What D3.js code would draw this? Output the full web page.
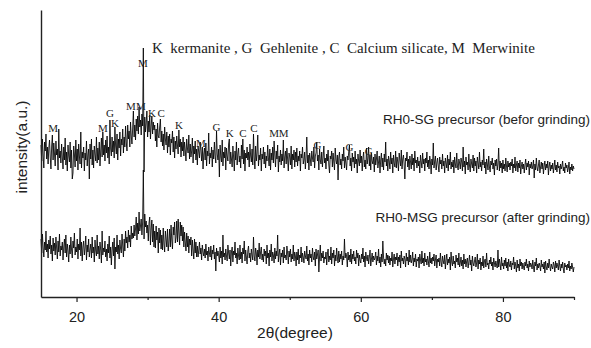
<!DOCTYPE html>
<html><head><meta charset="utf-8">
<script src="https://cdn.jsdelivr.net/npm/d3@7/dist/d3.min.js"></script>
<style>body{margin:0;background:#fff}svg{display:block}</style>
</head><body><svg id="c" width="591" height="348"></svg>
<script>
// 2θ grid (degrees)
const angleStart = 15, angleStep = 0.1;

// RH0-SG precursor (before grinding), a.u. — one row per degree, 15° .. 90°
const sgIntensity = [
152,136,158,141,129,155,146,163,138,150,
133,149,157,140,128,151,162,137,154,143,
131,156,142,148,127,168,139,146,134,153,
140,128,150,137,159,132,145,126,152,141,
135,155,129,147,118,124,151,143,130,157,
136,148,127,153,141,133,165,129,145,139,
150,126,144,137,156,131,142,148,118,153,
138,158,132,147,129,151,143,136,160,134,
149,137,155,131,146,159,140,165,142,152,
136,157,144,161,139,150,133,177,148,141,
160,145,156,139,170,151,143,163,137,158,
149,165,141,158,152,168,144,160,150,171,
155,146,172,158,166,150,175,161,153,169,
186,160,172,157,178,166,181,163,190,170,
177,162,183,171,249,125,180,165,174,186,
160,176,165,182,158,171,181,163,175,167,
172,156,168,150,174,161,159,170,178,155,
166,151,163,147,170,158,152,165,144,161,
150,163,142,158,154,166,145,160,139,156,
148,161,152,143,167,150,158,140,155,146,
160,141,155,147,136,158,149,144,162,138,
153,140,146,159,134,151,143,156,137,148,
132,151,145,139,155,147,136,150,128,143,
149,137,154,131,146,141,164,133,144,139,
150,130,147,138,155,141,134,166,143,137,
148,120,152,140,135,157,131,145,139,150,
127,149,141,136,153,158,133,145,138,130,
151,140,126,146,137,155,132,143,149,135,
141,129,152,138,158,133,147,126,144,139,
150,137,145,130,153,141,135,148,132,163,
140,128,151,136,144,162,131,142,137,149,
126,143,138,150,133,145,129,141,136,152,
139,131,148,127,144,137,150,134,156,142,
130,146,138,152,125,141,135,147,132,143,
136,157,129,140,146,133,149,138,126,144,
140,132,151,128,143,137,147,130,145,135,
149,131,141,136,146,126,143,139,150,133,
137,145,128,140,160,134,142,127,144,138,
131,146,139,135,150,129,141,144,155,136,
142,127,148,137,133,145,130,140,151,134,
139,128,143,136,147,132,124,141,138,146,
130,144,135,127,149,137,133,142,117,139,
145,132,138,128,143,136,150,129,140,134,
127,141,137,145,152,131,139,126,144,135,
140,129,146,133,138,124,143,136,131,147,
134,141,126,139,145,130,137,128,149,133,
139,150,131,142,127,144,136,133,140,125,
143,132,138,146,129,135,141,124,137,144,
130,139,127,143,135,155,131,138,126,141,
136,128,145,133,139,124,142,134,130,146,
129,140,135,126,144,137,131,147,128,138,
142,133,118,139,136,145,130,138,127,141,
135,128,143,132,139,126,146,134,137,129,
140,131,136,124,142,135,129,144,133,138,
126,139,134,145,130,137,128,141,135,123,
138,132,154,129,136,141,127,134,139,131,
125,140,133,137,128,143,131,136,124,139,
134,129,142,126,138,132,145,128,135,130,
137,124,140,133,129,144,131,127,138,134,
128,139,135,126,150,130,136,123,140,132,
135,127,143,131,125,138,133,129,142,126,
139,131,136,124,140,134,128,145,130,135,
126,137,132,148,129,135,123,138,133,127,
141,130,125,136,132,139,128,134,122,137,
131,138,127,133,149,126,136,129,134,124,
137,128,133,126,139,131,125,136,130,134,
127,135,131,138,124,133,129,140,126,132,
136,125,134,129,137,123,131,135,128,133,
124,132,138,127,134,130,136,122,133,129,
135,128,131,137,119,133,127,139,130,126,
132,137,124,130,135,128,134,123,131,136,
127,133,129,136,122,131,135,126,132,128,
134,124,130,137,127,132,125,135,129,131,
123,133,128,131,136,126,130,124,134,129,
132,125,129,135,123,130,127,133,126,131,
128
];

// RH0-MSG precursor (after grinding), a.u. — one row per degree, 15° .. 90°
const msgIntensity = [
58,44,63,49,40,55,47,66,45,53,
39,57,48,61,43,52,36,59,46,54,
42,60,49,38,56,45,63,41,51,47,
55,37,50,58,44,62,40,53,46,35,
52,43,60,47,39,56,49,64,42,50,
45,58,38,53,47,69,41,55,36,50,
56,42,49,61,37,52,45,58,40,47,
53,39,60,44,50,35,57,46,41,62,
43,51,38,55,47,34,66,42,49,45,
56,40,48,36,53,44,61,39,50,32,
47,55,41,59,28,50,45,62,43,52,
38,57,48,44,63,51,40,58,46,66,
54,60,49,67,55,62,50,71,58,64,
59,72,61,68,80,57,74,63,85,66,
71,78,62,75,127,58,83,70,76,64,
72,56,74,80,52,68,77,55,73,50,
66,49,71,57,65,44,69,54,67,48,
62,47,69,53,45,66,58,50,68,46,
55,68,50,72,57,48,70,62,75,54,
60,76,55,78,64,52,75,61,72,56,
70,50,65,55,46,64,50,61,44,58,
52,60,41,57,47,38,58,44,55,40,
51,40,47,55,43,49,37,52,45,41,
48,39,53,42,46,36,50,44,40,51,
37,47,43,52,38,45,26,49,41,46,
42,35,50,39,46,33,62,40,44,37,
48,41,36,52,44,38,47,31,45,50,
35,46,42,55,39,44,33,49,41,37,
52,38,45,34,49,43,56,36,47,40,
33,46,51,39,44,35,48,42,37,60,
41,36,49,44,32,47,40,54,38,45,
50,37,43,35,48,41,46,33,52,39,
44,31,47,40,53,36,45,42,34,49,
38,46,41,62,35,43,48,32,44,40,
47,34,50,39,42,37,51,44,33,46,
40,48,35,43,38,52,36,45,41,31,
45,37,48,33,42,39,50,35,44,40,
34,46,41,38,51,36,43,32,47,39,
43,35,49,40,37,45,31,48,38,42,
47,25,41,52,36,44,39,46,34,40,
38,45,32,43,48,35,41,37,50,33,
44,39,47,31,42,36,49,40,34,46,
35,43,38,46,32,41,37,58,39,44,
41,30,45,37,42,35,48,33,43,38,
46,36,40,33,47,39,44,31,42,37,
34,43,38,49,35,41,30,45,39,36,
42,33,40,47,31,38,44,35,41,37,
39,45,32,41,36,48,34,40,30,43,
35,56,40,33,38,31,44,37,42,34,
41,32,39,36,45,30,38,43,33,40,
37,44,31,40,35,42,29,46,36,39,
33,41,38,30,44,36,40,32,47,35,
42,34,37,45,31,39,35,43,30,38,
36,40,29,43,37,33,46,34,39,31,
44,35,38,32,41,36,30,45,34,39,
33,40,36,43,31,37,42,29,38,35,
39,31,44,35,30,41,36,33,42,28,
37,43,32,38,34,40,27,45,35,31,
41,33,36,29,42,35,39,32,44,30,
34,40,31,37,28,43,33,38,30,36,
39,29,35,42,32,37,26,41,34,31,
36,40,30,34,43,28,37,33,39,27,
35,31,41,29,36,38,30,44,32,34,
28,37,33,40,31,35,27,39,34,30,
36,32,29,47,30,38,33,27,40,31,
34,28,37,31,39,29,35,26,38,32,
30,36,27,34,32,40,28,35,31,25,
37,29,33,26,38,31,35,28,34,30,
27,35,31,38,29,33,26,36,30,34,
32,28,37,30,25,35,31,39,27,33,
29,34,31,26,37,30,33,28,35,24,
36,30,27,34,29,38,31,26,33,30,
28,35,32,25,36,29,34,31,27,37,
31,26,33,29,35,28,24,34,30,32,
27,33,29,36,26,31,28,34,30,25,
30
];

const xTicks = [20, 40, 60, 80];
const xMinorTicks = [30, 50, 70, 90];

// phase markers
const peakLetters = ["M","M","G","K","M","M","M","K","C","K","M","G","K","C","C","M","M","G","G","G"];
const peakAngles  = [16.7,23.7,24.7,25.4,27.65,29.05,29.35,30.6,31.9,34.4,37.5,39.7,41.55,43.4,44.95,47.8,49.15,53.9,58.4,61.1];
const peakLevels  = [165,165,180,170,187,187,230,180,180,168,150,166,160,160,165,160,160,148,146,142];

const legendText = "K  kermanite , G  Gehlenite , C  Calcium silicate, M  Merwinite";
const seriesNames = ["RH0-SG precursor (befor grinding)", "RH0-MSG precursor (after grinding)"];
const xTitle = "2θ(degree)";
const yTitle = "intensity(a.u.)";

const svg = d3.select("#c");
const x = d3.scaleLinear().domain([15, 90]).range([41, 574]);
const y = d3.scaleLinear().domain([0, 287]).range([297, 10]);

const line = d3.line().x((d, i) => x(angleStart + i * angleStep)).y(d => y(d));

[sgIntensity, msgIntensity].forEach(s => {
  svg.append("path").datum(s).attr("d", line)
    .attr("fill", "none").attr("stroke", "#000").attr("stroke-width", 0.85)
    .attr("stroke-linejoin", "miter");
});

// axes
const xAxis = svg.append("g").attr("transform", "translate(0,297)")
  .call(d3.axisBottom(x).tickValues(xTicks).tickSize(5).tickSizeOuter(0).tickPadding(10));
xAxis.selectAll("text").attr("font-family", "Liberation Sans, Arial, sans-serif")
  .attr("font-size", 14.5).attr("fill", "#222");
svg.append("g").attr("transform", "translate(0,297)")
  .call(d3.axisBottom(x).tickValues(xMinorTicks).tickSize(3).tickSizeOuter(0).tickFormat(""))
  .select(".domain").remove();
svg.append("g").attr("transform", "translate(41,0)")
  .call(d3.axisLeft(y).tickValues([]).tickSizeOuter(0));
svg.selectAll(".domain").attr("stroke", "#222").attr("stroke-width", 1.4);
svg.selectAll(".tick line").attr("stroke", "#222").attr("stroke-width", 1.2);

// titles
svg.append("text").attr("x", 295).attr("y", 338).attr("text-anchor", "middle")
  .attr("font-family", "Liberation Sans, Arial, sans-serif").attr("font-size", 15.5).attr("fill", "#222")
  .text(xTitle);
svg.append("text").attr("transform", "translate(27,147) rotate(-90)").attr("text-anchor", "middle")
  .attr("font-family", "Liberation Sans, Arial, sans-serif").attr("font-size", 15.5).attr("fill", "#222")
  .text(yTitle);

// legend line
svg.append("text").attr("x", 152).attr("y", 53).attr("xml:space", "preserve").style("white-space", "pre")
  .attr("font-family", "Liberation Serif, Times New Roman, serif").attr("font-size", 15).attr("fill", "#222")
  .text(legendText);

// series names
svg.append("text").attr("x", 590).attr("y", 124).attr("text-anchor", "end")
  .attr("font-family", "Liberation Sans, Arial, sans-serif").attr("font-size", 13.5).attr("fill", "#222")
  .text(seriesNames[0]);
svg.append("text").attr("x", 590).attr("y", 222).attr("text-anchor", "end")
  .attr("font-family", "Liberation Sans, Arial, sans-serif").attr("font-size", 13.5).attr("fill", "#222")
  .text(seriesNames[1]);

// peak markers
svg.append("g").selectAll("text").data(peakLetters).join("text")
  .attr("x", (d, i) => x(peakAngles[i])).attr("y", (d, i) => y(peakLevels[i]))
  .attr("text-anchor", "middle")
  .attr("font-family", "Liberation Serif, Times New Roman, serif").attr("font-size", 11).attr("fill", "#222")
  .text(d => d);
</script>
</body></html>
